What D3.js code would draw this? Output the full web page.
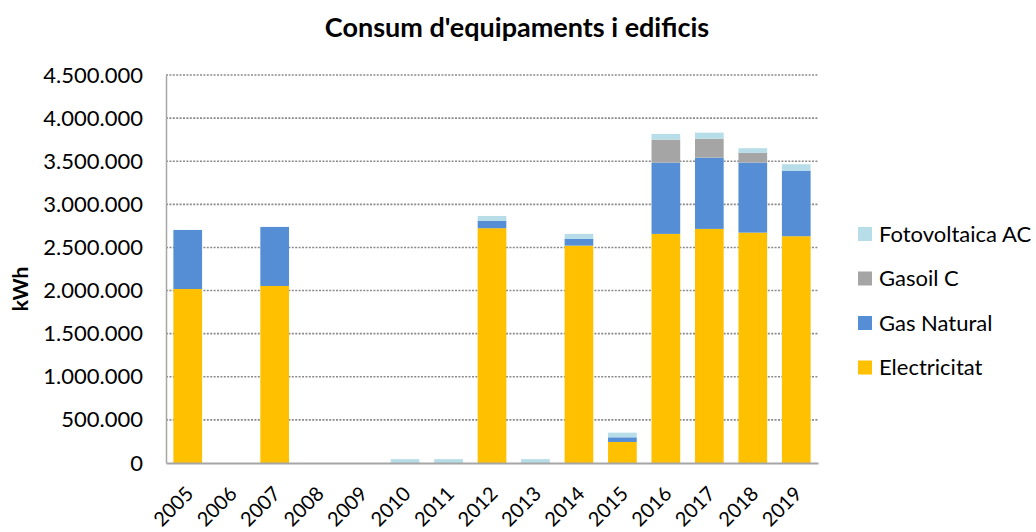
<!DOCTYPE html>
<html>
<head>
<meta charset="utf-8">
<script src="https://cdn.jsdelivr.net/npm/d3@7"></script>
<style>
  body { margin: 0; background: #fff; }
  svg { display: block; }
  text { font-family: Lato, "Open Sans", sans-serif; fill: #000; }
</style>
</head>
<body>
<svg id="chart" width="1036" height="532"></svg>
<script>
const years = ["2005","2006","2007","2008","2009","2010","2011","2012","2013","2014","2015","2016","2017","2018","2019"];
const electricitat = [2018000, 0, 2053000, 0, 0, 0, 0, 2723000, 0, 2521000, 244000, 2657000, 2715000, 2672000, 2630000];
const gasNatural   = [685000, 0, 685000, 0, 0, 0, 0, 88000, 0, 78000, 54000, 827000, 827000, 812000, 761000];
const gasoilC      = [0, 0, 0, 0, 0, 0, 0, 0, 0, 0, 0, 267000, 220000, 112000, 0];
const fotovoltaica = [0, 0, 0, 0, 0, 45000, 45000, 54000, 45000, 58000, 54000, 66000, 70000, 55000, 74000];
const yTicks = [0, 500000, 1000000, 1500000, 2000000, 2500000, 3000000, 3500000, 4000000, 4500000];

const seriesDefs = [
  { key: "Electricitat", values: electricitat, color: "#FFC000" },
  { key: "Gas Natural", values: gasNatural, color: "#558ED5" },
  { key: "Gasoil C", values: gasoilC, color: "#A5A5A5" },
  { key: "Fotovoltaica AC", values: fotovoltaica, color: "#B7DEE8" }
];

const rows = years.map((y, i) => {
  const r = { year: y };
  seriesDefs.forEach(s => r[s.key] = s.values[i]);
  return r;
});

const svg = d3.select("#chart");
const m = { left: 166, right: 818, top: 75, bottom: 463 };

const x = d3.scaleBand().domain(years).range([m.left, m.right]).paddingInner(0.34).paddingOuter(0.17);
const y = d3.scaleLinear().domain([0, 4500000]).range([m.bottom, m.top]);

const fmt = v => d3.format(",")(v).replace(/,/g, ".");

// Title
svg.append("text")
  .attr("x", 517).attr("y", 37)
  .attr("text-anchor", "middle")
  .style("font-size", "27px").style("font-weight", "bold")
  .text("Consum d'equipaments i edificis");

// Dotted gridlines
svg.append("g").selectAll("line")
  .data(yTicks.filter(t => t > 0))
  .join("line")
  .attr("x1", m.left).attr("x2", m.right)
  .attr("y1", d => y(d)).attr("y2", d => y(d))
  .attr("stroke", "#8a8a8a").attr("stroke-width", 1.6)
  .attr("stroke-dasharray", "2,1.4");

// Y axis
const yAxis = svg.append("g")
  .attr("transform", `translate(${m.left},0)`)
  .call(d3.axisLeft(y).tickValues(yTicks).tickFormat(fmt).tickSize(0).tickPadding(23));
yAxis.select(".domain").attr("stroke", "#a6a6a6").attr("stroke-width", 1.5);
yAxis.selectAll("text").style("font-size", "22px").style("font-family", "Lato, 'Open Sans', sans-serif").attr("fill", "#000");

// Stacked bars
const stack = d3.stack().keys(seriesDefs.map(s => s.key));
const layers = stack(rows);
svg.append("g").selectAll("g")
  .data(layers)
  .join("g")
  .attr("fill", (d, i) => seriesDefs[i].color)
  .selectAll("rect")
  .data(d => d)
  .join("rect")
  .attr("x", d => x(d.data.year))
  .attr("width", x.bandwidth())
  .attr("y", d => y(d[1]))
  .attr("height", d => y(d[0]) - y(d[1]));

// X axis
const xAxis = svg.append("g")
  .attr("transform", `translate(0,${m.bottom})`)
  .call(d3.axisBottom(x).tickSize(0).tickPadding(0));
xAxis.select(".domain").attr("stroke", "#a6a6a6").attr("stroke-width", 2);
xAxis.selectAll("text")
  .style("font-size", "20px").style("font-family", "Lato, 'Open Sans', sans-serif").attr("fill", "#000")
  .attr("text-anchor", "end")
  .attr("dy", "0")
  .attr("transform", "translate(7,32) rotate(-45)");

// Y axis title
svg.append("text")
  .attr("transform", "translate(28,289) rotate(-90)")
  .attr("text-anchor", "middle")
  .style("font-size", "21px").style("font-weight", "bold")
  .text("kWh");

// Legend (top to bottom: reverse stack order)
const legendItems = seriesDefs.slice().reverse();
const lg = svg.append("g").selectAll("g")
  .data(legendItems)
  .join("g")
  .attr("transform", (d, i) => `translate(858,${234 + i * 44.5})`);
lg.append("rect")
  .attr("x", 0).attr("y", -7).attr("width", 14).attr("height", 14)
  .attr("fill", d => d.color);
lg.append("text")
  .attr("x", 21).attr("y", 0).attr("dy", "0.35em")
  .style("font-size", "22px")
  .text(d => d.key);
</script>
</body>
</html>
